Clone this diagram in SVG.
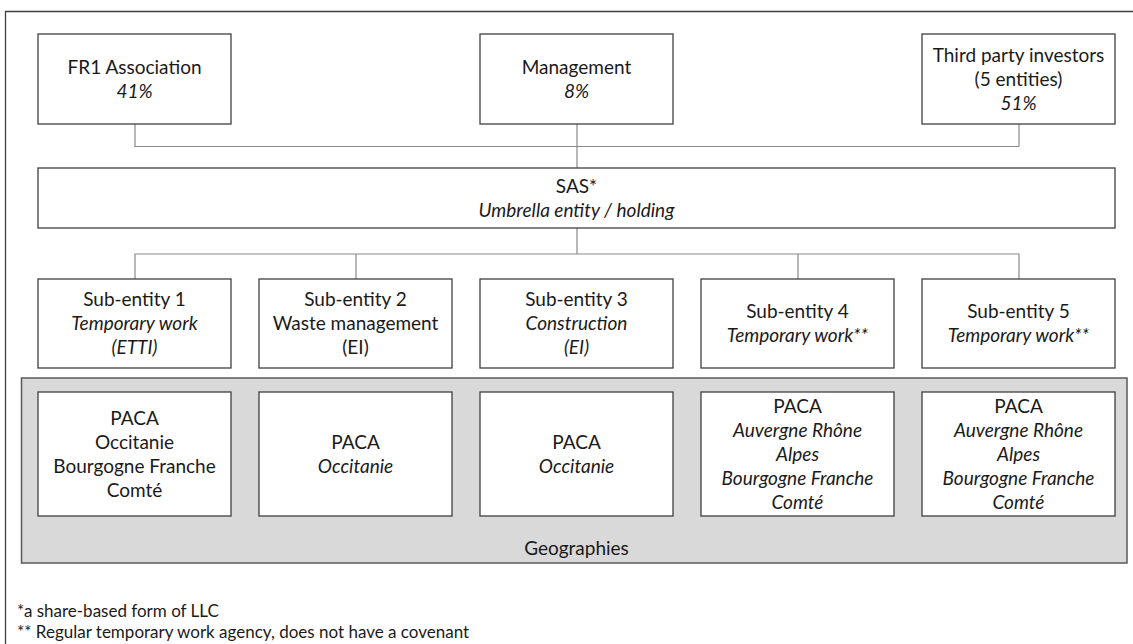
<svg xmlns="http://www.w3.org/2000/svg" width="1133" height="644" viewBox="0 0 1133 644">
<style>
.box{fill:#ffffff;stroke:#3f3f3f;stroke-width:1.3}
.geo{fill:#d9d9d9;stroke:#595959;stroke-width:1.5}
.frame{fill:none;stroke:#3f3f3f;stroke-width:1.3}
.con{fill:none;stroke:#8a8a8a;stroke-width:1.2}
text{font-family:Lato,"Open Sans","Liberation Sans",sans-serif;font-size:19px;fill:#1a1a1a;text-anchor:middle}
.i{font-style:italic}
.fn{font-size:17px;text-anchor:start}
</style>
<rect width="1133" height="644" fill="#ffffff"/>
<path class="frame" d="M5.5,644 V11.5 H1133"/>
<g id="connectors">
<path class="con" d="M135,124 V146.5 H1019 M1019,124 V146.5 M577,124 V168"/>
<path class="con" d="M577,228 V254 M135,279 V254 H1019 V279 M356,254 V279 M798,254 V279"/>
</g>
<g id="fr1">
<rect class="box" x="38" y="34" width="193" height="90"/>
<text x="134.5" y="74">FR1 Association</text>
<text x="134.5" y="98" class="i">41%</text>
</g>
<g id="management">
<rect class="box" x="480" y="34" width="193" height="90"/>
<text x="576.5" y="74">Management</text>
<text x="576.5" y="98" class="i">8%</text>
</g>
<g id="investors">
<rect class="box" x="922" y="34" width="193" height="90"/>
<text x="1018.5" y="62">Third party investors</text>
<text x="1018.5" y="86">(5 entities)</text>
<text x="1018.5" y="110" class="i">51%</text>
</g>
<g id="sas">
<rect class="box" x="38" y="168" width="1077" height="60"/>
<text x="576.5" y="193">SAS*</text>
<text x="576.5" y="217" class="i">Umbrella entity / holding</text>
</g>
<g id="geographies">
<rect class="geo" x="21.5" y="378" width="1105.5" height="185"/>
<text x="576.5" y="554.5">Geographies</text>
</g>
<g id="sub1">
<rect class="box" x="38" y="279" width="193" height="89"/>
<text x="134.5" y="306">Sub-entity 1</text>
<text x="134.5" y="330" class="i">Temporary work</text>
<text x="134.5" y="354" class="i">(ETTI)</text>
</g>
<g id="sub2">
<rect class="box" x="259" y="279" width="193" height="89"/>
<text x="355.5" y="306">Sub-entity 2</text>
<text x="355.5" y="330">Waste management</text>
<text x="355.5" y="354">(EI)</text>
</g>
<g id="sub3">
<rect class="box" x="480" y="279" width="193" height="89"/>
<text x="576.5" y="306">Sub-entity 3</text>
<text x="576.5" y="330" class="i">Construction</text>
<text x="576.5" y="354" class="i">(EI)</text>
</g>
<g id="sub4">
<rect class="box" x="701" y="279" width="193" height="89"/>
<text x="797.5" y="318">Sub-entity 4</text>
<text x="797.5" y="342" class="i">Temporary work**</text>
</g>
<g id="sub5">
<rect class="box" x="922" y="279" width="193" height="89"/>
<text x="1018.5" y="318">Sub-entity 5</text>
<text x="1018.5" y="342" class="i">Temporary work**</text>
</g>
<g id="geo1">
<rect class="box" x="38" y="392" width="193" height="124"/>
<text x="134.5" y="424.5">PACA</text>
<text x="134.5" y="448.5">Occitanie</text>
<text x="134.5" y="472.5">Bourgogne Franche</text>
<text x="134.5" y="496.5">Comté</text>
</g>
<g id="geo2">
<rect class="box" x="259" y="392" width="193" height="124"/>
<text x="355.5" y="448.5">PACA</text>
<text x="355.5" y="472.5" class="i">Occitanie</text>
</g>
<g id="geo3">
<rect class="box" x="480" y="392" width="193" height="124"/>
<text x="576.5" y="448.5">PACA</text>
<text x="576.5" y="472.5" class="i">Occitanie</text>
</g>
<g id="geo4">
<rect class="box" x="701" y="392" width="193" height="124"/>
<text x="797.5" y="412.5">PACA</text>
<text x="797.5" y="436.5" class="i">Auvergne Rhône</text>
<text x="797.5" y="460.5" class="i">Alpes</text>
<text x="797.5" y="484.5" class="i">Bourgogne Franche</text>
<text x="797.5" y="508.5" class="i">Comté</text>
</g>
<g id="geo5">
<rect class="box" x="922" y="392" width="193" height="124"/>
<text x="1018.5" y="412.5">PACA</text>
<text x="1018.5" y="436.5" class="i">Auvergne Rhône</text>
<text x="1018.5" y="460.5" class="i">Alpes</text>
<text x="1018.5" y="484.5" class="i">Bourgogne Franche</text>
<text x="1018.5" y="508.5" class="i">Comté</text>
</g>
<g id="footnotes">
<text x="17" y="617" class="fn">*a share-based form of LLC</text>
<text x="17" y="638" class="fn">** Regular temporary work agency, does not have a covenant</text>
</g>
</svg>
